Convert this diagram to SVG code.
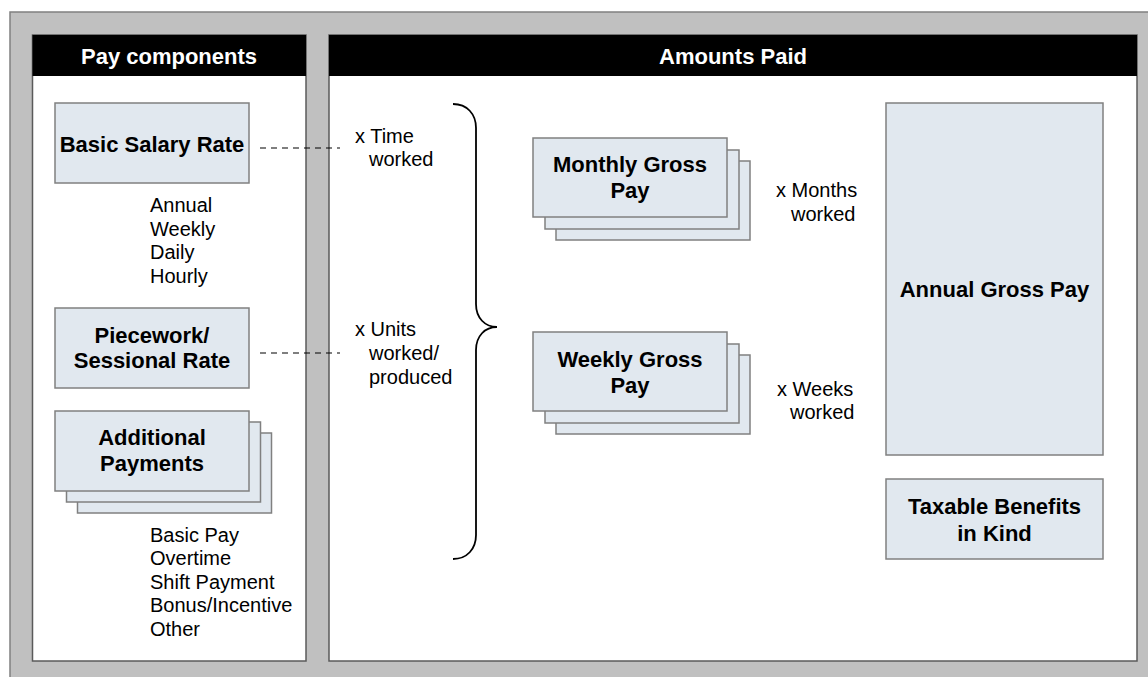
<svg xmlns="http://www.w3.org/2000/svg" width="1148" height="677" viewBox="0 0 1148 677">
<style>
.panel{fill:#ffffff;stroke:#5a5a5a;stroke-width:1.5}
.hdr{fill:#000000}
.ht{font-family:"Liberation Sans",Arial,sans-serif;font-weight:bold;font-size:22px;fill:#ffffff;text-anchor:middle}
.box{fill:#e1e8ef;stroke:#808080;stroke-width:1.5}
.bt{font-family:"Liberation Sans",Arial,sans-serif;font-weight:bold;font-size:22px;fill:#000000;text-anchor:middle}
.t{font-family:"Liberation Sans",Arial,sans-serif;font-size:20px;fill:#000000}
.dash{stroke:#000000;stroke-width:1.2;stroke-dasharray:6 5;fill:none}
.brace{stroke:#000000;stroke-width:1.8;fill:none}
</style>
<rect x="10" y="12" width="1150" height="680" fill="#c0c0c0" stroke="#808080" stroke-width="1.5"/>

<g id="panel-pay-components">
<rect class="panel" x="32.5" y="35" width="273.5" height="626"/>
<rect class="hdr" x="32.5" y="35" width="273.5" height="41"/>
<text class="ht" x="169" y="64">Pay components</text>
</g>

<g id="panel-amounts-paid">
<rect class="panel" x="329" y="35" width="808" height="626"/>
<rect class="hdr" x="329" y="35" width="808" height="41"/>
<text class="ht" x="733" y="64">Amounts Paid</text>
</g>

<g id="basic-salary-rate">
<rect class="box" x="55" y="103" width="194" height="80"/>
<text class="bt" x="152" y="152">Basic Salary Rate</text>
</g>

<g id="basic-salary-list">
<text class="t" x="150" y="212">Annual</text>
<text class="t" x="150" y="235.5">Weekly</text>
<text class="t" x="150" y="259">Daily</text>
<text class="t" x="150" y="283">Hourly</text>
</g>

<g id="piecework-rate">
<rect class="box" x="55" y="308" width="194" height="80"/>
<text class="bt" x="152" y="343">Piecework/</text>
<text class="bt" x="152" y="368">Sessional Rate</text>
</g>

<g id="additional-payments">
<rect class="box" x="77.5" y="433" width="194" height="80"/>
<rect class="box" x="66.5" y="422" width="194" height="80"/>
<rect class="box" x="55" y="411" width="194" height="80"/>
<text class="bt" x="152" y="445">Additional</text>
<text class="bt" x="152" y="471">Payments</text>
</g>

<g id="additional-payments-list">
<text class="t" x="150" y="542">Basic Pay</text>
<text class="t" x="150" y="565">Overtime</text>
<text class="t" x="150" y="588.5">Shift Payment</text>
<text class="t" x="150" y="612">Bonus/Incentive</text>
<text class="t" x="150" y="636">Other</text>
</g>

<g id="time-worked">
<text class="t" x="355" y="143">x Time</text>
<text class="t" x="369" y="166">worked</text>
</g>

<g id="units-worked">
<text class="t" x="355" y="336">x Units</text>
<text class="t" x="369" y="360">worked/</text>
<text class="t" x="369" y="384">produced</text>
</g>

<g id="monthly-gross-pay">
<rect class="box" x="556" y="161" width="194" height="79"/>
<rect class="box" x="545" y="150" width="194" height="79"/>
<rect class="box" x="533" y="138" width="194" height="79"/>
<text class="bt" x="630" y="172">Monthly Gross</text>
<text class="bt" x="630" y="198">Pay</text>
</g>

<g id="months-worked">
<text class="t" x="776" y="197">x Months</text>
<text class="t" x="791" y="221">worked</text>
</g>

<g id="weekly-gross-pay">
<rect class="box" x="556" y="355" width="194" height="79"/>
<rect class="box" x="545" y="344" width="194" height="79"/>
<rect class="box" x="533" y="332" width="194" height="79"/>
<text class="bt" x="630" y="367">Weekly Gross</text>
<text class="bt" x="630" y="393">Pay</text>
</g>

<g id="weeks-worked">
<text class="t" x="777" y="396">x Weeks</text>
<text class="t" x="790" y="419">worked</text>
</g>

<g id="annual-gross-pay">
<rect class="box" x="886" y="103" width="217" height="352"/>
<text class="bt" x="994.5" y="297">Annual Gross Pay</text>
</g>

<g id="taxable-benefits">
<rect class="box" x="886" y="479" width="217" height="80"/>
<text class="bt" x="994.5" y="514">Taxable Benefits</text>
<text class="bt" x="994.5" y="541">in Kind</text>
</g>

<g id="connectors">
<line class="dash" x1="260" y1="148" x2="340" y2="148"/>
<line class="dash" x1="260" y1="353" x2="340" y2="353"/>
<path class="brace" d="M453,104 C467,104 476,114 476,128 L476,304 C476,318 485,327 497,327 C485,327 476,336 476,350 L476,535 C476,549 467,559 453,559"/>
</g>
</svg>
